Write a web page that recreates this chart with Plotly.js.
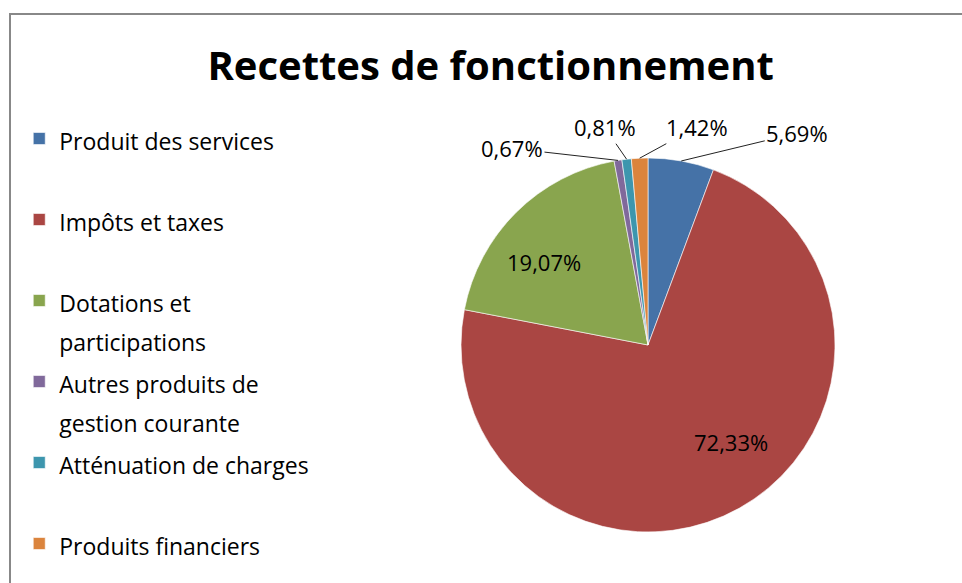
<!DOCTYPE html>
<html>
<head>
<meta charset="utf-8">
<script src="https://cdn.plot.ly/plotly-3.0.1.min.js"></script>
<style>
  html, body { margin:0; padding:0; background:#fff; }
  #wrap { position:relative; width:962px; height:583px; overflow:hidden; }
  #chart { width:962px; height:583px; }
  #frame { position:absolute; left:9px; top:13px; width:1000px; height:1000px;
           border-left:2px solid #888; border-top:2px solid #888; pointer-events:none; }
</style>
</head>
<body>
<div id="wrap">
  <div id="chart"></div>
  <div id="frame"></div>
</div>
<script>
/* Recettes de fonctionnement — pie, Excel-like styling */

const categories = ['Produit des services', 'Impôts et taxes', 'Dotations et<br>participations',
                    'Autres produits de<br>gestion courante', 'Atténuation de charges', 'Produits financiers'];
const shares     = [5.69, 72.33, 19.07, 0.67, 0.81, 1.42];
const colors     = ['#4572A7', '#AA4643', '#89A54E', '#80699B', '#3D96AE', '#DB843D'];

// label offsets (px) from the slice's outer edge, and whether a leader line is drawn
const labelOffsets = [[116, -28], [-9, -66], [28, 50], [-106, -12], [-22, -32], [57, -31]];
const leaderLines  = [true, false, false, true, true, true];

const W = 962, H = 583;
const DOM_X = [0.4792, 0.868], DOM_Y = [0.0875, 0.729];
const FONT = 'Open Sans, Noto Sans, sans-serif';

// legend: line height comes from size 30 (2 lines = one 81px slot), glyphs drawn at 23
const legendLabels = categories.map((c, i) => {
  const parts = c.split('<br>');
  const pad = i === categories.length - 1 ? 0 : 2 - parts.length;
  return parts.map(s => '<span style="font-size:23px">' + s + '</span>').join('<br>')
         + '<br>\u00a0'.repeat(pad);
});

// data labels, placed from the slice mid-angle (clockwise from 12 o'clock)
const total = shares.reduce((a, b) => a + b, 0);
const cx = (DOM_X[0] + DOM_X[1]) / 2, cy = (DOM_Y[0] + DOM_Y[1]) / 2;
const R  = Math.min((DOM_X[1] - DOM_X[0]) * W, (DOM_Y[1] - DOM_Y[0]) * H) / 2;
let cum = 0;
const annotations = shares.map((v, i) => {
  const mid = (cum + v / 2) / total * 2 * Math.PI;
  cum += v;
  return {
    xref:'paper', yref:'paper',
    x: cx + R * Math.sin(mid) / W, y: cy + R * Math.cos(mid) / H,
    ax: labelOffsets[i][0], ay: labelOffsets[i][1],
    text: v.toFixed(2).replace('.', ',') + '%',
    showarrow:true, arrowhead:0, arrowwidth:1, standoff:0,
    arrowcolor: leaderLines[i] ? '#222' : 'rgba(0,0,0,0)',
    font:{ family:FONT, size:22, color:'#000' },
  };
});

Plotly.newPlot('chart', [{
  type:'pie', labels:legendLabels, values:shares, sort:false,
  direction:'clockwise', rotation:0,
  marker:{ colors:colors, line:{color:'#fff', width:0.6} },
  textinfo:'none',
  domain:{ x:DOM_X, y:DOM_Y },
  hovertemplate:'%{value:.2f}%<extra></extra>',
}], {
  width:W, height:H,
  paper_bgcolor:'#fff', plot_bgcolor:'#fff',
  separators:', ',
  margin:{l:0, r:0, t:0, b:0},
  font:{ family:FONT, color:'#000' },
  title:{ text:'<b>Recettes de fonctionnement</b>', x:0.51, xanchor:'center',
          y:0.887, yanchor:'middle', font:{ family:FONT, size:40, color:'#000' } },
  showlegend:true,
  legend:{ x:0.02, y:0.807, xanchor:'left', yanchor:'top', valign:'top',
           font:{ family:FONT, size:30, color:'#000' }, bgcolor:'rgba(0,0,0,0)' },
  annotations: annotations,
}, {displayModeBar:false});
</script>
</body>
</html>
